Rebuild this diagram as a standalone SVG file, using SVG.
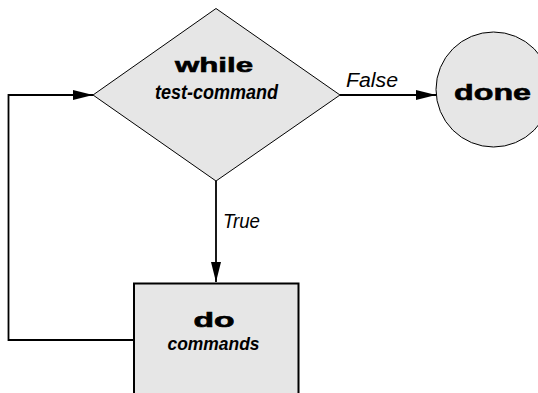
<svg xmlns="http://www.w3.org/2000/svg" width="538" height="393" viewBox="0 0 538 393">
<style>
.shape{fill:#e6e6e6;stroke:#000}
.thin{stroke-width:1}
.thick{stroke-width:2}
.conn{fill:none;stroke:#000;stroke-width:1.8}
.kw{font-family:"Liberation Sans",Arial,sans-serif;font-weight:bold;fill:#000;stroke:#000;stroke-width:0.6;text-anchor:middle}
.arg{font-family:"Liberation Sans",Arial,sans-serif;font-weight:bold;font-style:italic;fill:#000;text-anchor:middle}
.lbl{font-family:"Liberation Sans",Arial,sans-serif;font-style:italic;fill:#000}
</style>
<defs>
<marker id="ah" markerUnits="userSpaceOnUse" markerWidth="20" markerHeight="10" refX="20" refY="5" orient="auto">
<path d="M0,0 L20,5 L0,10 z" fill="#000"/>
</marker>
</defs>
<rect width="538" height="393" fill="#fff"/>
<g id="connectors">
<path class="conn" d="M216,181 V282" marker-end="url(#ah)"/>
<path class="conn" d="M340,95 H436" marker-end="url(#ah)"/>
<path class="conn" d="M134,340 H8.5 V95 H93" marker-end="url(#ah)"/>
<text class="lbl" x="346" y="86.5" font-size="20.5" textLength="52" lengthAdjust="spacingAndGlyphs">False</text>
<text class="lbl" x="223" y="227.5" font-size="20" textLength="37" lengthAdjust="spacingAndGlyphs">True</text>
</g>
<g id="while">
<polygon class="shape thin" points="216,8.5 340,95 216,181 93,95"/>
<text class="kw" x="214" y="72" font-size="20.5" textLength="78" lengthAdjust="spacingAndGlyphs">while</text>
<text class="arg" x="216.5" y="98.5" font-size="21" textLength="123" lengthAdjust="spacingAndGlyphs">test-command</text>
</g>
<g id="done">
<circle class="shape thin" cx="493.5" cy="89.5" r="57.5"/>
<text class="kw" x="492.5" y="100" font-size="22.5" textLength="77" lengthAdjust="spacingAndGlyphs">done</text>
</g>
<g id="do">
<rect class="shape thick" x="134" y="283.5" width="164.5" height="130"/>
<text class="kw" x="214" y="326.5" font-size="19.5" textLength="41" lengthAdjust="spacingAndGlyphs">do</text>
<text class="arg" x="213.5" y="350" font-size="18.5" textLength="92" lengthAdjust="spacingAndGlyphs">commands</text>
</g>
</svg>
